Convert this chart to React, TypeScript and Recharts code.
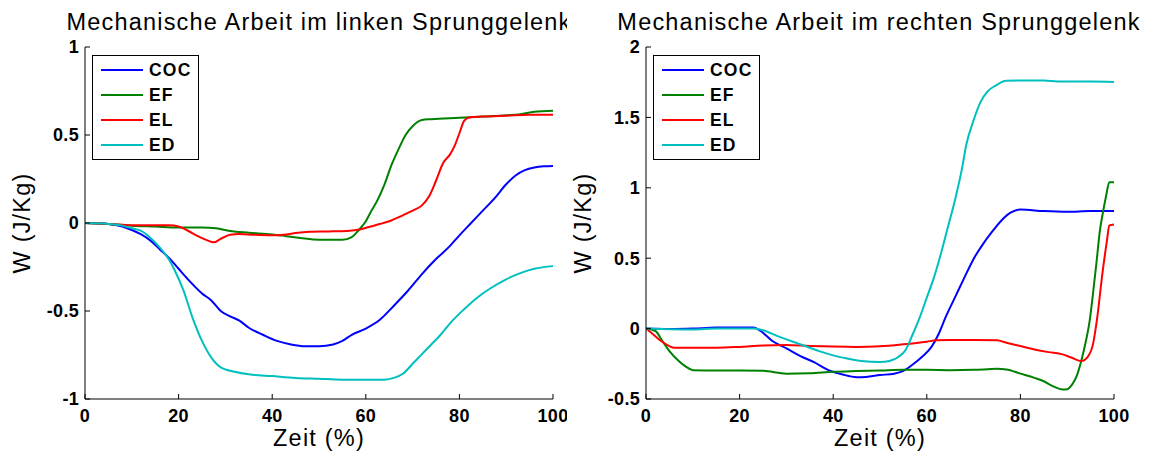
import React from 'react';
import { LineChart, Line, XAxis, YAxis, Legend } from 'recharts';

const FONT = '"Liberation Sans", Arial, Helvetica, sans-serif';

// ---------- data ----------
const xTicks = [0, 20, 40, 60, 80, 100];
const leftYTicks = [-1, -0.5, 0, 0.5, 1];
const rightYTicks = [-0.5, 0, 0.5, 1, 1.5, 2];
const seriesNames = ['COC', 'EF', 'EL', 'ED'];
const seriesColors = ['#0000ff', '#008000', '#ff0000', '#00bfbf'];
const leftTitle = 'Mechanische Arbeit im linken Sprunggelenk';
const rightTitle = 'Mechanische Arbeit im rechten Sprunggelenk';
const xLabel = 'Zeit (%)';
const yLabel = 'W (J/Kg)';

const leftCOC: [number, number][] = [
  [0, 0], [5, -0.005], [8, -0.02], [10, -0.04], [12, -0.065], [14, -0.1], [16, -0.15], [18, -0.2],
  [20, -0.26], [22, -0.32], [25, -0.4], [27, -0.44], [29, -0.5], [31, -0.53], [33, -0.555],
  [35, -0.595], [38, -0.635], [41, -0.67], [44, -0.69], [47, -0.7], [50, -0.7], [53, -0.69],
  [55, -0.67], [57, -0.635], [60, -0.6], [63, -0.55], [66, -0.47], [69, -0.385], [72, -0.29],
  [75, -0.205], [78, -0.13], [80, -0.07], [82.5, 0], [85, 0.07], [87.5, 0.14], [90, 0.22],
  [92, 0.27], [94, 0.3], [96, 0.315], [98, 0.322], [100, 0.324],
];
const leftEF: [number, number][] = [
  [0, 0], [5, -0.005], [10, -0.015], [15, -0.02], [20, -0.025], [25, -0.025], [28, -0.03],
  [31, -0.045], [35, -0.055], [40, -0.065], [43, -0.075], [46, -0.085], [50, -0.095], [55, -0.095],
  [57, -0.08], [58.5, -0.04], [60, 0.01], [61, 0.06], [62.5, 0.13], [64, 0.22], [65.5, 0.33],
  [67, 0.42], [68.5, 0.5], [70, 0.55], [72, 0.585], [74, 0.59], [80, 0.598], [85, 0.605],
  [90, 0.612], [93, 0.618], [96, 0.632], [100, 0.638],
];
const leftEL: [number, number][] = [
  [0, 0], [5, -0.005], [10, -0.013], [15, -0.013], [18, -0.013], [20, -0.02], [22, -0.044],
  [24, -0.073], [26, -0.097], [27.5, -0.11], [29, -0.09], [31, -0.067], [33, -0.063], [36, -0.067],
  [40, -0.07], [43, -0.065], [45, -0.057], [48, -0.05], [52, -0.048], [56, -0.045], [59, -0.035],
  [61, -0.02], [63, -0.006], [65, 0.01], [68, 0.045], [70, 0.07], [72, 0.1], [73.5, 0.15],
  [75, 0.24], [76.5, 0.34], [78, 0.39], [79, 0.44], [80, 0.51], [81, 0.58], [82, 0.6],
  [85, 0.605], [90, 0.61], [95, 0.615], [100, 0.615],
];
const leftED: [number, number][] = [
  [0, 0], [5, -0.005], [8, -0.015], [10, -0.03], [12, -0.045], [14, -0.085], [16, -0.14],
  [18, -0.21], [19, -0.26], [21, -0.38], [23, -0.54], [25, -0.67], [27, -0.765], [29, -0.82],
  [32, -0.845], [35, -0.86], [40, -0.87], [45, -0.88], [50, -0.885], [55, -0.89], [60, -0.89],
  [64, -0.89], [66, -0.88], [68, -0.855], [70, -0.8], [72, -0.745], [74, -0.69], [76, -0.635],
  [78, -0.57], [81, -0.49], [84, -0.42], [87, -0.365], [90, -0.32], [93, -0.285], [96, -0.26],
  [100, -0.245],
];

const rightCOC: [number, number][] = [
  [0, 0], [5, -0.003], [10, 0], [15, 0.007], [20, 0.007], [23, 0.007], [24.5, -0.017], [27, -0.088],
  [30, -0.14], [33, -0.195], [36, -0.24], [39, -0.295], [42, -0.326], [45, -0.345], [47, -0.343],
  [50, -0.33], [53, -0.32], [55, -0.3], [57, -0.255], [59, -0.2], [61, -0.13], [62.5, -0.04],
  [64, 0.08], [66, 0.22], [68, 0.36], [70, 0.495], [72, 0.6], [74, 0.69], [76, 0.77], [78, 0.825],
  [80, 0.845], [85, 0.835], [90, 0.83], [95, 0.835], [100, 0.835],
];
const rightEF: [number, number][] = [
  [0, 0], [2, -0.017], [3.5, -0.088], [5, -0.16], [7, -0.23], [8.5, -0.27], [10, -0.295],
  [15, -0.298], [20, -0.298], [25, -0.3], [30, -0.32], [35, -0.317], [40, -0.307], [45, -0.302],
  [50, -0.298], [55, -0.293], [60, -0.293], [65, -0.295], [70, -0.293], [75, -0.286], [77, -0.29],
  [80, -0.32], [83, -0.35], [85, -0.374], [87, -0.41], [89, -0.433], [90, -0.43], [91, -0.4],
  [92, -0.34], [93, -0.23], [94, -0.088], [94.8, 0.055], [95.5, 0.245], [96.3, 0.483], [97, 0.7],
  [97.5, 0.8], [98.3, 0.94], [99, 1.04], [100, 1.04],
];
const rightEL: [number, number][] = [
  [0, 0], [1.5, -0.04], [3, -0.083], [5, -0.124], [6, -0.136], [10, -0.136], [15, -0.136],
  [20, -0.13], [25, -0.12], [30, -0.117], [35, -0.124], [40, -0.128], [45, -0.13], [50, -0.126],
  [55, -0.112], [60, -0.093], [62, -0.083], [65, -0.081], [70, -0.081], [75, -0.083], [77, -0.1],
  [80, -0.124], [83, -0.148], [86, -0.167], [89, -0.183], [91, -0.207], [93, -0.23], [94.5, -0.195],
  [95.5, -0.112], [96.5, 0.1], [97.5, 0.386], [98.5, 0.626], [99, 0.733], [100, 0.74],
];
const rightED: [number, number][] = [
  [0, 0], [5, -0.005], [10, -0.007], [15, 0], [20, 0], [23, 0], [25, -0.012], [28, -0.052],
  [31, -0.088], [34, -0.124], [37, -0.16], [40, -0.19], [43, -0.212], [46, -0.23], [50, -0.238],
  [52, -0.23], [54, -0.2], [55.5, -0.15], [57, -0.04], [58.5, 0.08], [60, 0.22], [61.5, 0.36],
  [63, 0.53], [64.5, 0.72], [66, 0.91], [67.6, 1.15], [68.4, 1.3], [70, 1.48], [71.5, 1.61],
  [73, 1.685], [74.7, 1.726], [77, 1.76], [80, 1.762], [85, 1.762], [88, 1.755], [95, 1.755],
  [100, 1.752],
];

const toData = (pairs: [number, number][]) => pairs.map(([t, v]) => ({ t, v }));

// ---------- styles ----------
const tickStyle: React.CSSProperties = {
  fontFamily: FONT, fontSize: 18, fontWeight: 'bold', fill: '#000', letterSpacing: 0.3,
};
const labelStyle: React.CSSProperties = {
  fontFamily: FONT, fontSize: 23.5, fill: '#000', letterSpacing: 1.2,
};
const legendTextStyle: React.CSSProperties = {
  fontFamily: FONT, fontSize: 17.5, fontWeight: 'bold', fill: '#000', letterSpacing: 1.2,
};

const TICK_LEN = 5;
const BOTTOM_GAP = 10;
const LEFT_GAP = 6;

const BottomTick = (p: any) => (
  <g>
    <line x1={p.x} x2={p.x} y1={p.y - BOTTOM_GAP} y2={p.y - BOTTOM_GAP - TICK_LEN} stroke="#000" />
    <text x={p.x} y={p.y} dy="0.71em" textAnchor="middle" style={tickStyle}>
      {String(p.payload.value)}
    </text>
  </g>
);
const TopTick = (p: any) => (
  <line x1={p.x} x2={p.x} y1={p.y} y2={p.y + TICK_LEN} stroke="#000" />
);
const LeftTick = (p: any) => (
  <g>
    <line x1={p.x + LEFT_GAP} x2={p.x + LEFT_GAP + TICK_LEN} y1={p.y} y2={p.y} stroke="#000" />
    <text x={p.x} y={p.y} dy="0.355em" textAnchor="end" style={tickStyle}>
      {String(p.payload.value)}
    </text>
  </g>
);
const RightTick = (p: any) => (
  <line x1={p.x} x2={p.x - TICK_LEN} y1={p.y} y2={p.y} stroke="#000" />
);

const XLabelContent = (props: any) => {
  const vb = props.viewBox || {};
  const cx = (vb.x ?? 0) + (vb.width ?? 0) / 2;
  const by = (vb.y ?? 0) + 47;
  return (
    <text x={cx} y={by} textAnchor="middle" style={labelStyle}>{xLabel}</text>
  );
};
const YLabelContent = (props: any) => {
  const vb = props.viewBox || {};
  const cx = (vb.x ?? 0) + (vb.width ?? 0) - 55;
  const cy = (vb.y ?? 0) + (vb.height ?? 0) / 2;
  return (
    <text x={cx} y={cy} transform={`rotate(-90 ${cx} ${cy})`} textAnchor="middle" style={labelStyle}>
      {yLabel}
    </text>
  );
};

const LegendBox = () => (
  <svg width={107} height={105} style={{ display: 'block' }}>
    <rect x={0.5} y={0.5} width={106} height={104} fill="#fff" stroke="#000" />
    {seriesNames.map((name, i) => (
      <g key={name}>
        <line x1={9} x2={51} y1={15 + i * 25} y2={15 + i * 25} stroke={seriesColors[i]} strokeWidth={2} />
        <text x={57} y={15 + i * 25} dy="0.36em" style={legendTextStyle}>{name}</text>
      </g>
    ))}
  </svg>
);

type PanelProps = {
  width: number;
  marginRight: number;
  yAxisWidth: number;
  yDomain: [number, number];
  yTicks: number[];
  series: [number, number][][];
  legendLeft: number;
};

function Panel({ width, marginRight, yAxisWidth, yDomain, yTicks, series, legendLeft }: PanelProps) {
  return (
    <LineChart width={width} height={452} margin={{ top: 47, right: marginRight, bottom: 0, left: 0 }}>
      <XAxis
        xAxisId="b" dataKey="t" type="number" domain={[0, 100]} ticks={xTicks} interval={0}
        height={53} tickSize={0} tickMargin={BOTTOM_GAP} tickLine={false}
        axisLine={{ stroke: '#000' }} tick={BottomTick} allowDataOverflow
        label={<XLabelContent />}
      />
      <XAxis
        xAxisId="t" orientation="top" dataKey="t" type="number" domain={[0, 100]} ticks={xTicks}
        interval={0} height={0} tickSize={0} tickMargin={0} tickLine={false}
        axisLine={{ stroke: '#000' }} tick={TopTick} allowDataOverflow
      />
      <YAxis
        yAxisId="l" type="number" domain={yDomain} ticks={yTicks} interval={0} width={yAxisWidth}
        tickSize={0} tickMargin={LEFT_GAP} tickLine={false} axisLine={{ stroke: '#000' }}
        tick={LeftTick} allowDataOverflow label={<YLabelContent />}
      />
      <YAxis
        yAxisId="r" orientation="right" type="number" domain={yDomain} ticks={yTicks} interval={0}
        width={0} tickSize={0} tickMargin={0} tickLine={false} axisLine={{ stroke: '#000' }}
        tick={RightTick} allowDataOverflow
      />
      <Legend
        layout="vertical" align="center" verticalAlign="middle"
        wrapperStyle={{ left: legendLeft, top: 55, width: 107, height: 105 }}
        content={<LegendBox />}
      />
      {series.map((s, i) => (
        <Line
          key={seriesNames[i]} name={seriesNames[i]} data={toData(s)} dataKey="v"
          xAxisId="b" yAxisId="l" type="monotone" stroke={seriesColors[i]} strokeWidth={2}
          dot={false} activeDot={false} isAnimationActive={false}
        />
      ))}
    </LineChart>
  );
}

const titleStyle: React.CSSProperties = {
  position: 'absolute', top: 11, transform: 'translateX(-50%)', whiteSpace: 'nowrap',
  fontFamily: FONT, fontSize: 23.5, lineHeight: 1, letterSpacing: 1.2, color: '#000',
};

export default function App() {
  return (
    <div style={{ position: 'absolute', left: 0, top: 0, width: 1157, height: 452, background: '#fff' }}>
      <div style={{ position: 'absolute', left: 0, top: 0, width: 567, height: 452, overflow: 'hidden' }}>
        <Panel
          width={567} marginRight={14} yAxisWidth={85} yDomain={[-1, 1]} yTicks={leftYTicks}
          series={[leftCOC, leftEF, leftEL, leftED]} legendLeft={92}
        />
        <div style={{ ...titleStyle, left: 319 }}>{leftTitle}</div>
      </div>
      <div style={{ position: 'absolute', left: 567, top: 0, width: 590, height: 452, overflow: 'hidden' }}>
        <Panel
          width={590} marginRight={43} yAxisWidth={79} yDomain={[-0.5, 2]} yTicks={rightYTicks}
          series={[rightCOC, rightEF, rightEL, rightED]} legendLeft={86}
        />
        <div style={{ ...titleStyle, left: 312 }}>{rightTitle}</div>
      </div>
    </div>
  );
}
